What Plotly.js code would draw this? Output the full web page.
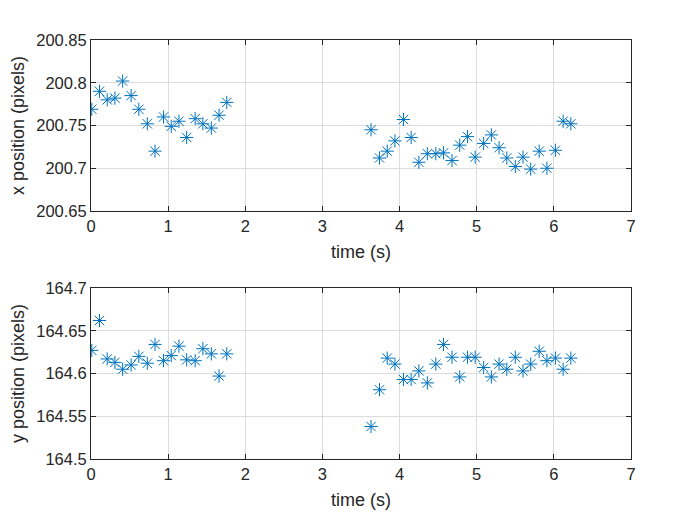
<!DOCTYPE html>
<html>
<head>
<meta charset="utf-8">
<script src="https://cdn.plot.ly/plotly-3.0.1.min.js"></script>
<style>html,body{margin:0;padding:0;background:#fff;}#chart{width:700px;height:525px;}</style>
</head>
<body>
<div id="chart"></div>
<script>
// time stamps (s)
const timeA = [0.01, 0.11, 0.21, 0.31, 0.41, 0.52, 0.62, 0.73, 0.83, 0.94, 1.04, 1.14, 1.24, 1.35, 1.45, 1.56, 1.66, 1.76];
const timeB = [3.63, 3.74, 3.84, 3.94, 4.05, 4.15, 4.25, 4.36, 4.47, 4.57, 4.68, 4.78, 4.88, 4.98, 5.09, 5.19, 5.29, 5.39, 5.50, 5.60, 5.70, 5.81, 5.91, 6.02, 6.12, 6.22];

// x position (pixels)
const xPosA = [200.769, 200.790, 200.780, 200.782, 200.802, 200.785, 200.769, 200.752, 200.720, 200.760, 200.749, 200.755, 200.736, 200.758, 200.752, 200.747, 200.762, 200.777];
const xPosB = [200.745, 200.712, 200.720, 200.732, 200.757, 200.736, 200.707, 200.717, 200.717, 200.718, 200.709, 200.727, 200.737, 200.713, 200.729, 200.739, 200.724, 200.712, 200.702, 200.713, 200.699, 200.720, 200.700, 200.721, 200.755, 200.752];

// y position (pixels)
const yPosA = [164.627, 164.662, 164.617, 164.613, 164.605, 164.610, 164.620, 164.612, 164.634, 164.615, 164.621, 164.632, 164.616, 164.615, 164.629, 164.623, 164.597, 164.623];
const yPosB = [164.538, 164.581, 164.618, 164.611, 164.593, 164.593, 164.603, 164.589, 164.611, 164.634, 164.619, 164.596, 164.619, 164.619, 164.607, 164.596, 164.611, 164.605, 164.619, 164.603, 164.611, 164.626, 164.615, 164.618, 164.605, 164.618];

const xTicks = [0, 1, 2, 3, 4, 5, 6, 7];
const topTickVals = [200.65, 200.7, 200.75, 200.8, 200.85];
const topTickText = ['200.65', '200.7', '200.75', '200.8', '200.85'];
const botTickVals = [164.5, 164.55, 164.6, 164.65, 164.7];
const botTickText = ['164.5', '164.55', '164.6', '164.65', '164.7'];

const time = timeA.concat(timeB);
const xPos = xPosA.concat(xPosB);
const yPos = yPosA.concat(yPosB);

const marker = {symbol: 'asterisk-open', size: 11, color: '#0072BD', line: {color: '#0072BD', width: 1}};
const font = {family: 'Liberation Sans, Arial, sans-serif', size: 16.5, color: '#262626'};
const tfont = {family: 'Liberation Sans, Arial, sans-serif', size: 18, color: '#262626'};

const traces = [
  {x: time, y: xPos, type: 'scatter', mode: 'markers', marker: marker, xaxis: 'x', yaxis: 'y', hoverinfo: 'skip'},
  {x: time, y: yPos, type: 'scatter', mode: 'markers', marker: marker, xaxis: 'x2', yaxis: 'y2', hoverinfo: 'skip'}
];

function xa(anchor) {
  return {
    anchor: anchor, range: [0, 7], tickvals: xTicks, ticks: 'inside', ticklen: 5, tickcolor: '#262626',
    showline: true, linecolor: '#262626', linewidth: 1, mirror: 'ticks',
    showgrid: true, gridcolor: '#dcdcdc', gridwidth: 1, zeroline: false,
    tickfont: font, title: {text: 'time (s)', font: tfont, standoff: 11}
  };
}
function ya(anchor, dom, rng, tv, tt, label) {
  return {
    anchor: anchor, domain: dom, range: rng, tickvals: tv, ticktext: tt, ticks: 'inside', ticklen: 5, tickcolor: '#262626',
    showline: true, linecolor: '#262626', linewidth: 1, mirror: 'ticks',
    showgrid: true, gridcolor: '#dcdcdc', gridwidth: 1, zeroline: false,
    tickfont: font, title: {text: label, font: tfont, standoff: 6}
  };
}

const layout = {
  width: 700, height: 525,
  margin: {l: 91, r: 69, t: 40, b: 66},
  paper_bgcolor: '#ffffff', plot_bgcolor: '#ffffff',
  showlegend: false,
  xaxis: xa('y'),
  yaxis: ya('x', [0.5919, 1], [200.65, 200.85], topTickVals, topTickText, 'x position (pixels)'),
  xaxis2: xa('y2'),
  yaxis2: ya('x2', [0, 0.4081], [164.5, 164.7], botTickVals, botTickText, 'y position (pixels)')
};

Plotly.newPlot('chart', traces, layout, {displayModeBar: false, staticPlot: true});
</script>
</body>
</html>
